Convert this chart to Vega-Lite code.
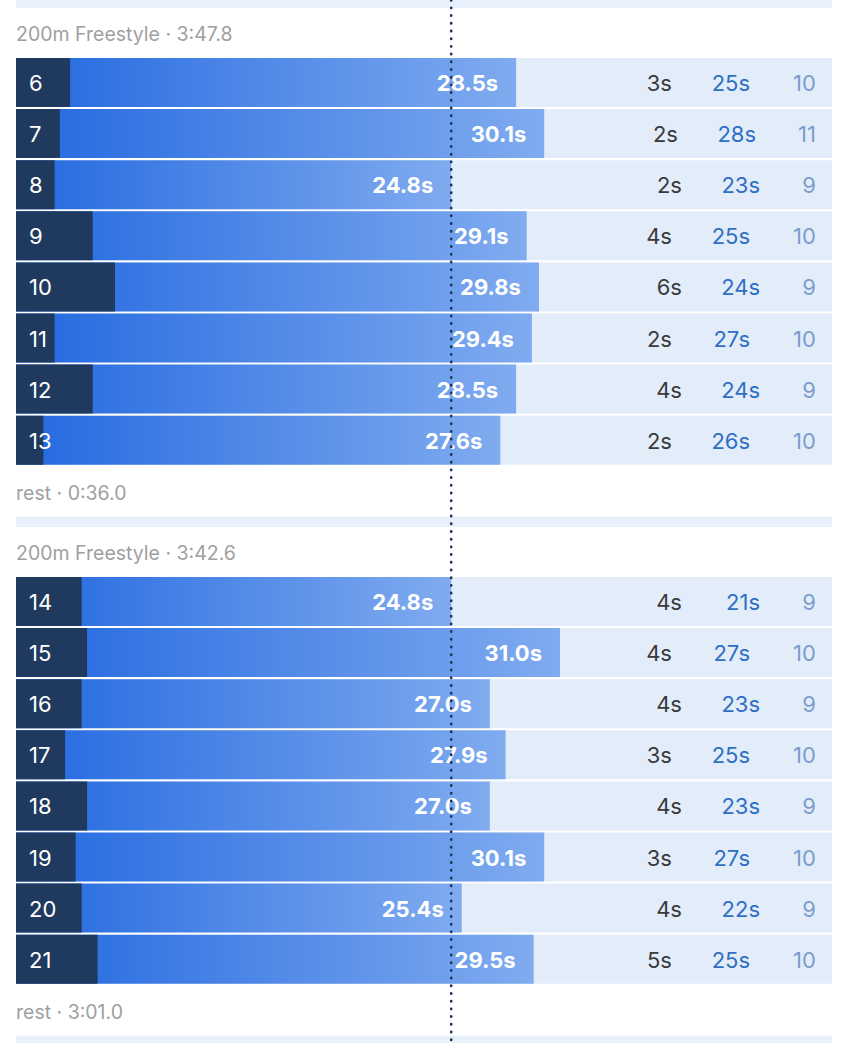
{
  "$schema": "https://vega.github.io/schema/vega-lite/v6.json",
  "width": 850,
  "height": 1043,
  "padding": 0,
  "autosize": {"type": "none"},
  "background": "white",
  "config": {"view": {"stroke": null}, "axis": {"disable": true}, "legend": {"disable": true}, "font": "Inter", "scale": {"continuousPadding": 0}},
  "datasets": {
    "groups": [
      {"first": 6, "last": 13, "title": "200m Freestyle · 3:47.8", "rest": "rest · 0:36.0"},
      {"first": 14, "last": 21, "title": "200m Freestyle · 3:42.6", "rest": "rest · 3:01.0"}
    ],
    "laps": [
      {"lap": 6, "split": 28.5, "turn": 3.08, "under": 3, "swim": 25, "strokes": 10},
      {"lap": 7, "split": 30.1, "turn": 2.5, "under": 2, "swim": 28, "strokes": 11},
      {"lap": 8, "split": 24.8, "turn": 2.2, "under": 2, "swim": 23, "strokes": 9},
      {"lap": 9, "split": 29.1, "turn": 4.37, "under": 4, "swim": 25, "strokes": 10},
      {"lap": 10, "split": 29.8, "turn": 5.64, "under": 6, "swim": 24, "strokes": 9},
      {"lap": 11, "split": 29.4, "turn": 2.2, "under": 2, "swim": 27, "strokes": 10},
      {"lap": 12, "split": 28.5, "turn": 4.37, "under": 4, "swim": 24, "strokes": 9},
      {"lap": 13, "split": 27.6, "turn": 1.56, "under": 2, "swim": 26, "strokes": 10},
      {"lap": 14, "split": 24.8, "turn": 3.74, "under": 4, "swim": 21, "strokes": 9},
      {"lap": 15, "split": 31.0, "turn": 4.05, "under": 4, "swim": 27, "strokes": 10},
      {"lap": 16, "split": 27.0, "turn": 3.74, "under": 4, "swim": 23, "strokes": 9},
      {"lap": 17, "split": 27.9, "turn": 2.8, "under": 3, "swim": 25, "strokes": 10},
      {"lap": 18, "split": 27.0, "turn": 4.05, "under": 4, "swim": 23, "strokes": 9},
      {"lap": 19, "split": 30.1, "turn": 3.4, "under": 3, "swim": 27, "strokes": 10},
      {"lap": 20, "split": 25.4, "turn": 3.74, "under": 4, "swim": 22, "strokes": 9},
      {"lap": 21, "split": 29.5, "turn": 4.65, "under": 5, "swim": 25, "strokes": 10}
    ]
  },
  "layer": [
    {
      "data": {"name": "groups"},
      "mark": {"type": "bar", "orient": "horizontal", "height": 8, "color": "#e7f0fb", "yOffset": -78.5},
      "encoding": {
        "x": {"datum": 0, "type": "quantitative", "scale": {"domain": [0, 46.5], "range": [16, 832], "nice": false, "zero": false, "padding": 0}, "axis": null},
        "x2": {"datum": 46.5},
        "y": {"field": "first", "type": "quantitative", "scale": {"domain": [6, 13, 14, 21], "range": [82.5, 440.2, 601.5, 959.2], "nice": false, "zero": false, "padding": 0}, "axis": null}
      }
    },
    {
      "data": {"name": "groups"},
      "mark": {"type": "bar", "orient": "horizontal", "height": 8, "color": "#e7f0fb", "yOffset": 80.5},
      "encoding": {
        "x": {"datum": 0, "type": "quantitative"},
        "x2": {"datum": 46.5},
        "y": {"field": "last", "type": "quantitative"}
      }
    },
    {
      "data": {"name": "groups"},
      "mark": {"type": "text", "align": "left", "baseline": "middle", "fontSize": 19.5, "color": "#a0a0a0", "dy": -48},
      "encoding": {
        "x": {"datum": 0, "type": "quantitative"},
        "y": {"field": "first", "type": "quantitative"},
        "text": {"field": "title"}
      }
    },
    {
      "data": {"name": "groups"},
      "mark": {"type": "text", "align": "left", "baseline": "middle", "fontSize": 19.5, "color": "#a0a0a0", "dy": 54},
      "encoding": {
        "x": {"datum": 0, "type": "quantitative"},
        "y": {"field": "last", "type": "quantitative"},
        "text": {"field": "rest"}
      }
    },
    {
      "data": {"name": "laps"},
      "mark": {"type": "bar", "orient": "horizontal", "height": 49, "color": "#e3edfa"},
      "encoding": {
        "x": {"datum": 0, "type": "quantitative"},
        "x2": {"datum": 46.5},
        "y": {"field": "lap", "type": "quantitative"}
      }
    },
    {
      "data": {"name": "laps"},
      "mark": {"type": "bar", "orient": "horizontal", "height": 49,
        "color": {"gradient": "linear", "x1": 0, "y1": 0, "x2": 1, "y2": 0,
          "stops": [{"offset": 0, "color": "#2268e0"}, {"offset": 1, "color": "#80abef"}]}},
      "encoding": {
        "x": {"field": "split", "type": "quantitative"},
        "x2": {"datum": 0},
        "y": {"field": "lap", "type": "quantitative"}
      }
    },
    {
      "data": {"name": "laps"},
      "mark": {"type": "bar", "orient": "horizontal", "height": 49, "color": "#1f3a5e"},
      "encoding": {
        "x": {"field": "turn", "type": "quantitative"},
        "x2": {"datum": 0},
        "y": {"field": "lap", "type": "quantitative"}
      }
    },
    {
      "data": {"name": "laps"},
      "mark": {"type": "text", "align": "left", "baseline": "middle", "dx": 13, "dy": 1.5, "fontSize": 22, "color": "white"},
      "encoding": {
        "x": {"datum": 0, "type": "quantitative"},
        "y": {"field": "lap", "type": "quantitative"},
        "text": {"field": "lap"}
      }
    },
    {
      "data": {"name": "laps"},
      "transform": [{"calculate": "format(datum.split, '.1f') + 's'", "as": "splitLabel"}],
      "mark": {"type": "text", "align": "right", "baseline": "middle", "dx": -18, "dy": 1.5, "fontSize": 22, "fontWeight": "bold", "color": "white"},
      "encoding": {
        "x": {"field": "split", "type": "quantitative"},
        "y": {"field": "lap", "type": "quantitative"},
        "text": {"field": "splitLabel"}
      }
    },
    {
      "data": {"name": "laps"},
      "transform": [{"filter": "datum.strokes == 10"}, {"calculate": "datum.under + 's'", "as": "underLabel"}, {"calculate": "datum.swim + 's'", "as": "swimLabel"}],
      "layer": [
        {"mark": {"type": "text", "align": "right", "baseline": "middle", "dy": 1.5, "fontSize": 22, "color": "#3a3a3c"},
         "encoding": {"x": {"datum": 37.38, "type": "quantitative"}, "y": {"field": "lap", "type": "quantitative"}, "text": {"field": "underLabel"}}},
        {"mark": {"type": "text", "align": "right", "baseline": "middle", "dy": 1.5, "fontSize": 22, "color": "#2f6fc4"},
         "encoding": {"x": {"datum": 41.83, "type": "quantitative"}, "y": {"field": "lap", "type": "quantitative"}, "text": {"field": "swimLabel"}}}
      ]
    },
    {
      "data": {"name": "laps"},
      "transform": [{"filter": "datum.strokes == 9"}, {"calculate": "datum.under + 's'", "as": "underLabel"}, {"calculate": "datum.swim + 's'", "as": "swimLabel"}],
      "layer": [
        {"mark": {"type": "text", "align": "right", "baseline": "middle", "dy": 1.5, "dx": 10, "fontSize": 22, "color": "#3a3a3c"},
         "encoding": {"x": {"datum": 37.38, "type": "quantitative"}, "y": {"field": "lap", "type": "quantitative"}, "text": {"field": "underLabel"}}},
        {"mark": {"type": "text", "align": "right", "baseline": "middle", "dy": 1.5, "dx": 10, "fontSize": 22, "color": "#2f6fc4"},
         "encoding": {"x": {"datum": 41.83, "type": "quantitative"}, "y": {"field": "lap", "type": "quantitative"}, "text": {"field": "swimLabel"}}}
      ]
    },
    {
      "data": {"name": "laps"},
      "transform": [{"filter": "datum.strokes == 11"}, {"calculate": "datum.under + 's'", "as": "underLabel"}, {"calculate": "datum.swim + 's'", "as": "swimLabel"}],
      "layer": [
        {"mark": {"type": "text", "align": "right", "baseline": "middle", "dy": 1.5, "dx": 6, "fontSize": 22, "color": "#3a3a3c"},
         "encoding": {"x": {"datum": 37.38, "type": "quantitative"}, "y": {"field": "lap", "type": "quantitative"}, "text": {"field": "underLabel"}}},
        {"mark": {"type": "text", "align": "right", "baseline": "middle", "dy": 1.5, "dx": 6, "fontSize": 22, "color": "#2f6fc4"},
         "encoding": {"x": {"datum": 41.83, "type": "quantitative"}, "y": {"field": "lap", "type": "quantitative"}, "text": {"field": "swimLabel"}}}
      ]
    },
    {
      "data": {"name": "laps"},
      "mark": {"type": "text", "align": "right", "baseline": "middle", "dy": 1.5, "fontSize": 22, "color": "#7a9dcb"},
      "encoding": {
        "x": {"datum": 45.58, "type": "quantitative"},
        "y": {"field": "lap", "type": "quantitative"},
        "text": {"field": "strokes"}
      }
    },
    {
      "data": {"values": [{"best": 24.8}]},
      "mark": {"type": "rule", "color": "#1c3558", "strokeWidth": 2.6, "strokeCap": "round", "strokeDash": [0.4, 7.3]},
      "encoding": {
        "x": {"field": "best", "type": "quantitative"}
      }
    }
  ]
}
